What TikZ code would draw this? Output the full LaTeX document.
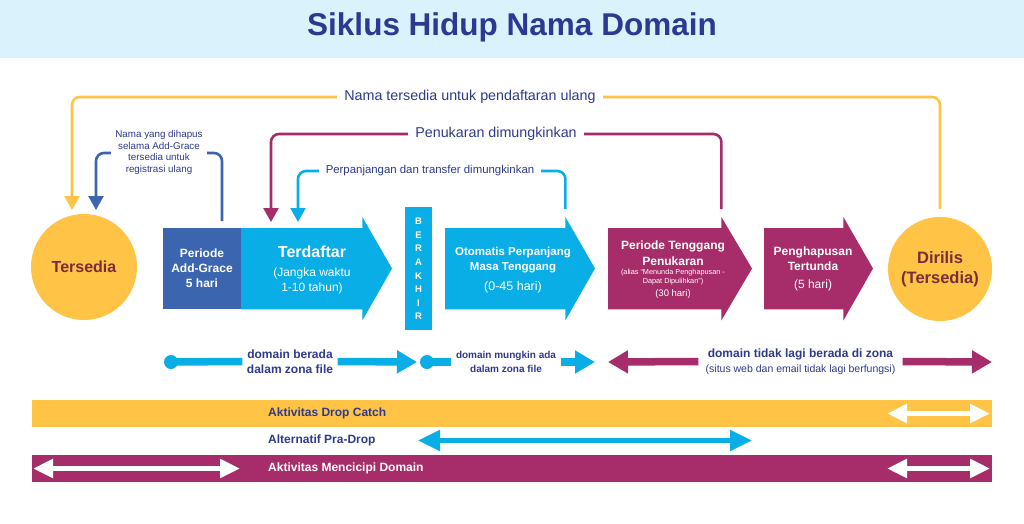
\documentclass[tikz,border=0pt]{standalone}
\usepackage{fontspec}
\setmainfont{Liberation Sans}
\usetikzlibrary{arrows.meta}
\definecolor{yel}{HTML}{FFC445}
\definecolor{cyanc}{HTML}{0AAEE6}
\definecolor{maroon}{HTML}{A62D69}
\definecolor{agblue}{HTML}{3B65AF}
\definecolor{dblue}{HTML}{2E3A8C}
\definecolor{titlec}{HTML}{2B3990}
\definecolor{band}{HTML}{D9F3FD}
\definecolor{circtext}{HTML}{7B2C3A}
\newcommand\fsz[2]{\fontsize{#1}{#2}\selectfont}
\newcommand\bigarrowshape[3]{%
  \fill[#2] (#1.north west) -- (#1.north east) -- ([yshift=11pt]#1.north east)
    -- (#3,268.5) -- ([yshift=-11pt]#1.south east) -- (#1.south east)
    -- (#1.south west) -- cycle;}
\begin{document}
\begin{tikzpicture}[x=1pt,y=-1pt,
  txt/.style={inner sep=0pt, align=center},
  body/.style={anchor=north west, minimum height=81pt, inner sep=0pt, draw=none},
  conn/.style={line width=2.6pt, rounded corners=8pt, -{Triangle[width=15pt,length=14pt]}},
  lab/.style={fill=white, inner xsep=7pt, inner ysep=2pt, text=dblue, align=center},
  zl/.style={line width=7.5pt},
  ztip/.style={-{Triangle[width=22pt,length=20pt]}},
  dot/.style={circle, fill=cyanc, minimum size=14pt, inner sep=0pt},
  bar/.style={anchor=north west, minimum width=960pt, minimum height=27pt, inner sep=0pt},
  bartxt/.style={anchor=west, inner sep=0pt, font=\fsz{12}{14}\bfseries},
  warr/.style={line width=5pt, white, {Triangle[width=18pt,length=20pt]}-{Triangle[width=18pt,length=20pt]}}
]
\useasboundingbox (0,0) rectangle (1024,523);
\fill[white] (0,0) rectangle (1024,523);
\fill[band] (0,0) rectangle (1024,58);
\node[anchor=base, inner sep=0pt, text=titlec, font=\fsz{31.5}{36}\bfseries] (title) at (512,35) {Siklus Hidup Nama Domain};

% circles
\node[circle, fill=yel, minimum size=106pt, inner sep=0pt, text=circtext, font=\fsz{16}{19}\bfseries] (ters) at (84,267) {Tersedia};
\node[circle, fill=yel, minimum size=104pt, inner sep=0pt, text=circtext, align=center, font=\fsz{16.5}{20}\bfseries] (dir) at (940,269) {Dirilis\\(Tersedia)};

% add grace
\node[anchor=north west, fill=agblue, minimum width=78pt, minimum height=81pt, inner sep=0pt] (ag) at (163,228) {};
\node[txt, text=white, font=\fsz{12}{15}\bfseries] (agt) at (202,268) {Periode\\Add-Grace\\5 hari};

% terdaftar
\node[body, minimum width=121pt] (terd) at (241,228) {};
\bigarrowshape{terd}{cyanc}{392}
\node[txt, text=white, font=\fsz{16}{19}\bfseries] (terdT) at (312,252) {Terdaftar};
\node[txt, text=white, font=\fsz{12}{15}] (terdS) at (312,280.5) {(Jangka waktu\\1-10 tahun)};

% berakhir
\node[anchor=north west, fill=cyanc, minimum width=27pt, minimum height=123pt, inner sep=0pt] (ber) at (405,207) {};
\node[txt, text=white, font=\fsz{9.5}{13.6}\bfseries] (bert) at (418.5,269) {B\\E\\R\\A\\K\\H\\I\\R};

% otomatis
\node[body, minimum width=120pt] (oto) at (445,228) {};
\bigarrowshape{oto}{cyanc}{595}
\node[txt, text=white, font=\fsz{11.5}{14.5}\bfseries] (otoT) at (513,260) {Otomatis Perpanjang\\Masa Tenggang};
\node[txt, text=white, font=\fsz{12.5}{15}] (otoS) at (513,287) {(0-45 hari)};

% periode tenggang penukaran
\node[body, minimum width=113pt] (ptp) at (608,228) {};
\bigarrowshape{ptp}{maroon}{752}
\node[txt, text=white, font=\fsz{12}{16}\bfseries] (ptpT) at (673,253) {Periode Tenggang\\Penukaran};
\node[txt, text=white, font=\fsz{7.3}{8.5}] (ptpS) at (673,277) {(alias ``Menunda Penghapusan -\\Dapat Dipulihkan'')};
\node[txt, text=white, font=\fsz{9.5}{11}] (ptpD) at (673,294) {(30 hari)};

% penghapusan tertunda
\node[body, minimum width=79pt] (pht) at (764,228) {};
\bigarrowshape{pht}{maroon}{873}
\node[txt, text=white, font=\fsz{12}{15}\bfseries] (phtT) at (813,258.5) {Penghapusan\\Tertunda};
\node[txt, text=white, font=\fsz{12}{15}] (phtS) at (813,285) {(5 hari)};

% top connectors
\coordinate (yelTip) at (72,210);
\coordinate (marStart) at ([yshift=11pt]ptp.north east);
\coordinate (marTip) at (271,222);
\coordinate (cyStart) at ([yshift=11pt]oto.north east);
\coordinate (cyTip) at (298,222);
\coordinate (blStart) at (222,228);
\coordinate (blTip) at (96,210);

\draw[conn, yel, shorten <=8pt] (dir.north) |- (72,97) -- (yelTip);
\draw[conn, maroon, shorten <=8pt] (marStart) |- (271,134) -- (marTip);
\draw[conn, cyanc, shorten <=8pt] (cyStart) |- (298,171) -- (cyTip);
\draw[conn, agblue, shorten <=7pt] (blStart) |- (96,153) -- (blTip);

\node[lab, font=\fsz{14.3}{16}] (ylab) at (470,97) {Nama tersedia untuk pendaftaran ulang};
\node[lab, font=\fsz{14.3}{16}] (mlab) at (496,134) {Penukaran dimungkinkan};
\node[lab, font=\fsz{11.4}{13}] (clab) at (430,171) {Perpanjangan dan transfer dimungkinkan};
\node[lab, inner xsep=4pt, font=\fsz{9.8}{11.7}] (blab) at (159,152.5) {Nama yang dihapus\\selama Add-Grace\\tersedia untuk\\registrasi ulang};

% zone row
\node[dot] (z1s) at (171,362) {};
\node[align=center, text=dblue, inner ysep=0pt, inner xsep=4.5pt, font=\fsz{12}{15}\bfseries] (z1t) at (290,361.5) {domain berada\\dalam zona file};
\coordinate (z1e) at (417,362);
\draw[zl, cyanc] (z1s.center) -- (z1t.west);
\draw[zl, cyanc, ztip] (z1t.east) -- (z1e);

\node[dot] (z2s) at (427,362) {};
\node[align=center, text=dblue, inner ysep=0pt, inner xsep=5pt, font=\fsz{10}{14}\bfseries] (z2t) at (506,362) {domain mungkin ada\\dalam zona file};
\coordinate (z2e) at (595,362);
\draw[zl, cyanc] (z2s.center) -- (z2t.west);
\draw[zl, cyanc, ztip] (z2t.east) -- (z2e);

\node[align=center, text=dblue, inner ysep=0pt, inner xsep=7pt, font=\fsz{12}{15}] (z3t) at (800.5,361.5) {\textbf{domain tidak lagi berada di zona}\\{\fsz{10.5}{15}(situs web dan email tidak lagi berfungsi)}};
\coordinate (z3l) at (608,362);
\coordinate (z3r) at (992,362);
\draw[zl, maroon, ztip] (z3t.west) -- (z3l);
\draw[zl, maroon, ztip] (z3t.east) -- (z3r);

% bars
\node[bar, fill=yel] (dc) at (32,400) {};
\node[bartxt, text=dblue] (dct) at (268,413.5) {Aktivitas Drop Catch};
\coordinate (dcA) at (887,413.5);
\coordinate (dcB) at (990,413.5);
\draw[warr] (dcA) -- (dcB);

\node[bartxt, text=dblue] (pdt) at (268,440.5) {Alternatif Pra-Drop};
\coordinate (pdA) at (418,440.5);
\coordinate (pdB) at (752,440.5);
\draw[line width=5pt, cyanc, {Triangle[width=20pt,length=22pt]}-{Triangle[width=20pt,length=22pt]}] (pdA) -- (pdB);

\node[bar, fill=maroon] (mc) at (32,455) {};
\node[bartxt, text=white] (mct) at (268,468.5) {Aktivitas Mencicipi Domain};
\coordinate (mcA) at (33,468.5);
\coordinate (mcB) at (240,468.5);
\coordinate (mcC) at (887,468.5);
\coordinate (mcD) at (990,468.5);
\draw[warr] (mcA) -- (mcB);
\draw[warr] (mcC) -- (mcD);
\end{tikzpicture}
\end{document}
